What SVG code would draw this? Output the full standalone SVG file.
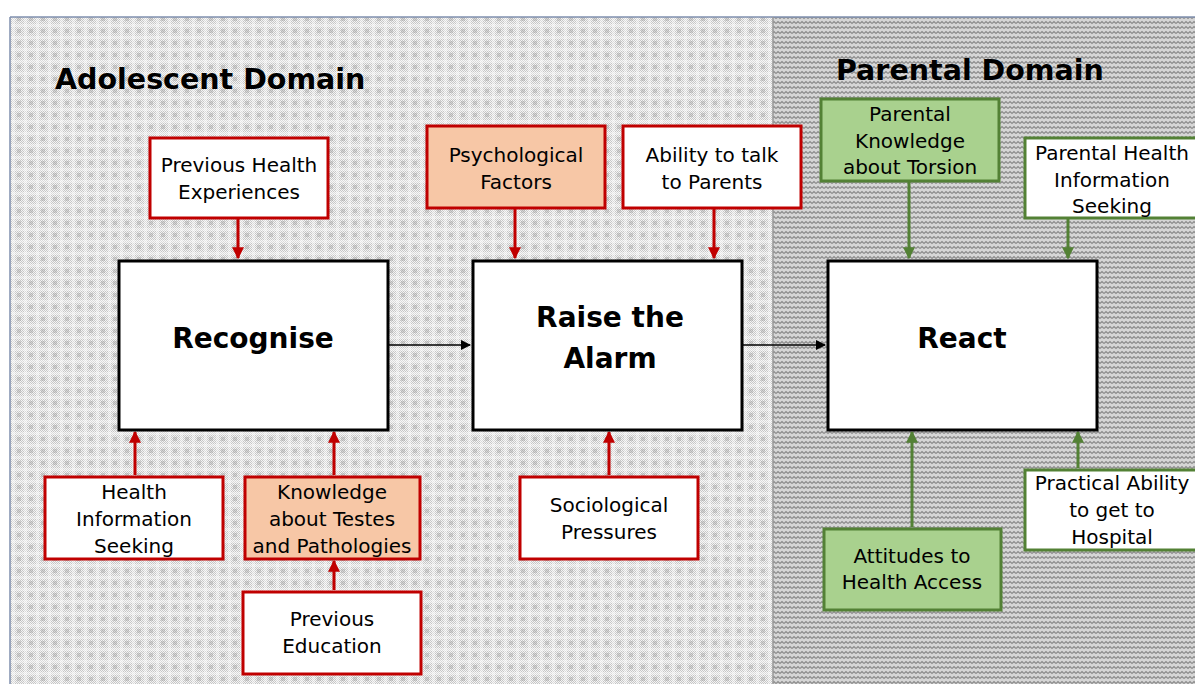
<svg xmlns="http://www.w3.org/2000/svg" width="1195" height="684" viewBox="0 0 1195 684">
<defs>
<pattern id="fine" width="2" height="2" patternUnits="userSpaceOnUse">
<rect width="2" height="2" fill="#f4f4f4"/>
<rect width="1" height="1" fill="#c6c6c6"/>
<rect x="1" y="1" width="1" height="1" fill="#c6c6c6"/>
</pattern>
<pattern id="grid" width="12" height="12" patternUnits="userSpaceOnUse">
<rect width="12" height="12" fill="url(#fine)"/>
<rect x="0" y="0" width="12" height="3" fill="#ffffff" opacity="0.35"/>
<rect x="0" y="0" width="3" height="12" fill="#ffffff" opacity="0.35"/>
<rect x="5" y="5" width="4" height="4" fill="#909090" opacity="0.3"/>
</pattern>
<pattern id="wave" width="8" height="5" patternUnits="userSpaceOnUse">
<rect width="8" height="5" fill="#d6d6d6"/>
<polyline points="0,3.5 2,1.5 4,3.5 6,1.5 8,3.5" fill="none" stroke="#8c8c8c" stroke-width="1.2"/>
</pattern>
<marker id="ar" viewBox="0 0 10 10" refX="9" refY="5" markerWidth="4" markerHeight="4" orient="auto-start-reverse" markerUnits="strokeWidth">
<path d="M0,0 L10,5 L0,10 z" fill="#c00000"/>
</marker>
<marker id="ag" viewBox="0 0 10 10" refX="9" refY="5" markerWidth="4" markerHeight="4" orient="auto-start-reverse" markerUnits="strokeWidth">
<path d="M0,0 L10,5 L0,10 z" fill="#538135"/>
</marker>
<marker id="ak" viewBox="0 0 10 10" refX="9" refY="5" markerWidth="7" markerHeight="7" orient="auto" markerUnits="strokeWidth">
<path d="M0,0 L10,5 L0,10 z" fill="#000"/>
</marker>
</defs>
<style>
text{font-family:"DejaVu Sans","Liberation Sans",sans-serif;fill:#000;text-anchor:middle}
.t{font-size:20px}
.h{font-size:28.5px;font-weight:bold;text-anchor:start}
.m{font-size:28px;font-weight:bold}
.red{fill:#fff;stroke:#c00000;stroke-width:3}
.sal{fill:#f7c7a6;stroke:#c00000;stroke-width:3}
.gw{fill:#fff;stroke:#538135;stroke-width:3}
.gg{fill:#a9d18e;stroke:#538135;stroke-width:3}
.main{fill:#fff;stroke:#000;stroke-width:3}
.cr{stroke:#c00000;stroke-width:3;fill:none;marker-end:url(#ar)}
.cg{stroke:#538135;stroke-width:3;fill:none;marker-end:url(#ag)}
.ck{stroke:#000;stroke-width:1.5;fill:none;marker-end:url(#ak)}
</style>
<rect width="1195" height="684" fill="#fff"/>
<g id="background">
<rect x="10" y="17" width="763" height="667" fill="url(#grid)"/>
<rect x="773" y="17" width="422" height="667" fill="url(#wave)"/>
<line x1="10" y1="17" x2="1195" y2="17" stroke="#7f8fae" stroke-width="1.5"/>
<line x1="10" y1="17" x2="10" y2="684" stroke="#7f8fae" stroke-width="1.5"/>
<line x1="773" y1="17" x2="773" y2="684" stroke="#999" stroke-width="1.5"/>
<text class="h" x="55" y="89">Adolescent Domain</text>
<text class="h" x="836" y="80">Parental Domain</text>
</g>
<g id="connectors">
<line class="cr" x1="238" y1="219" x2="238" y2="258"/>
<line class="cr" x1="515" y1="209" x2="515" y2="258"/>
<line class="cr" x1="714" y1="209" x2="714" y2="258"/>
<line class="cr" x1="135" y1="475" x2="135" y2="432"/>
<line class="cr" x1="334" y1="475" x2="334" y2="432"/>
<line class="cr" x1="334" y1="590" x2="334" y2="561"/>
<line class="cr" x1="609" y1="475" x2="609" y2="432"/>
<line class="cg" x1="909" y1="182" x2="909" y2="258"/>
<line class="cg" x1="1068" y1="219" x2="1068" y2="258"/>
<line class="cg" x1="912" y1="527" x2="912" y2="432"/>
<line class="cg" x1="1078" y1="468" x2="1078" y2="432"/>
<line class="ck" x1="389" y1="345" x2="470" y2="345"/>
<line class="ck" x1="743" y1="345" x2="825" y2="345"/>
</g>
<g id="recognise">
<rect class="main" x="119" y="261" width="269" height="169"/>
<text class="m" x="253" y="348">Recognise</text>
</g>
<g id="raise">
<rect class="main" x="473" y="261" width="269" height="169"/>
<text class="m" x="610" y="327">Raise the</text>
<text class="m" x="610" y="368">Alarm</text>
</g>
<g id="react">
<rect class="main" x="828" y="261" width="269" height="169"/>
<text class="m" x="962" y="348">React</text>
</g>
<g id="prevhealth">
<rect class="red" x="150" y="138" width="178" height="80"/>
<text class="t" x="239" y="172">Previous Health</text>
<text class="t" x="239" y="199">Experiences</text>
</g>
<g id="psych">
<rect class="sal" x="427" y="126" width="178" height="82"/>
<text class="t" x="516" y="162">Psychological</text>
<text class="t" x="516" y="189">Factors</text>
</g>
<g id="ability">
<rect class="red" x="623" y="126" width="178" height="82"/>
<text class="t" x="712" y="162">Ability to talk</text>
<text class="t" x="712" y="189">to Parents</text>
</g>
<g id="healthinfo">
<rect class="red" x="45" y="477" width="178" height="82"/>
<text class="t" x="134" y="499">Health</text>
<text class="t" x="134" y="526">Information</text>
<text class="t" x="134" y="553">Seeking</text>
</g>
<g id="knowledge">
<rect class="sal" x="245" y="477" width="175" height="82"/>
<text class="t" x="332" y="499">Knowledge</text>
<text class="t" x="332" y="526">about Testes</text>
<text class="t" x="332" y="553">and Pathologies</text>
</g>
<g id="preved">
<rect class="red" x="243" y="592" width="178" height="82"/>
<text class="t" x="332" y="626">Previous</text>
<text class="t" x="332" y="653">Education</text>
</g>
<g id="socio">
<rect class="red" x="520" y="477" width="178" height="82"/>
<text class="t" x="609" y="512">Sociological</text>
<text class="t" x="609" y="539">Pressures</text>
</g>
<g id="parknow">
<rect class="gg" x="821" y="99" width="178" height="82"/>
<text class="t" x="910" y="121">Parental</text>
<text class="t" x="910" y="148">Knowledge</text>
<text class="t" x="910" y="174">about Torsion</text>
</g>
<g id="parinfo">
<rect class="gw" x="1025" y="138" width="180" height="80"/>
<text class="t" x="1112" y="160">Parental Health</text>
<text class="t" x="1112" y="187">Information</text>
<text class="t" x="1112" y="213">Seeking</text>
</g>
<g id="practical">
<rect class="gw" x="1025" y="470" width="180" height="80"/>
<text class="t" x="1112" y="490">Practical Ability</text>
<text class="t" x="1112" y="517">to get to</text>
<text class="t" x="1112" y="544">Hospital</text>
</g>
<g id="attitudes">
<rect class="gg" x="824" y="529" width="177" height="81"/>
<text class="t" x="912" y="563">Attitudes to</text>
<text class="t" x="912" y="589">Health Access</text>
</g>
</svg>
